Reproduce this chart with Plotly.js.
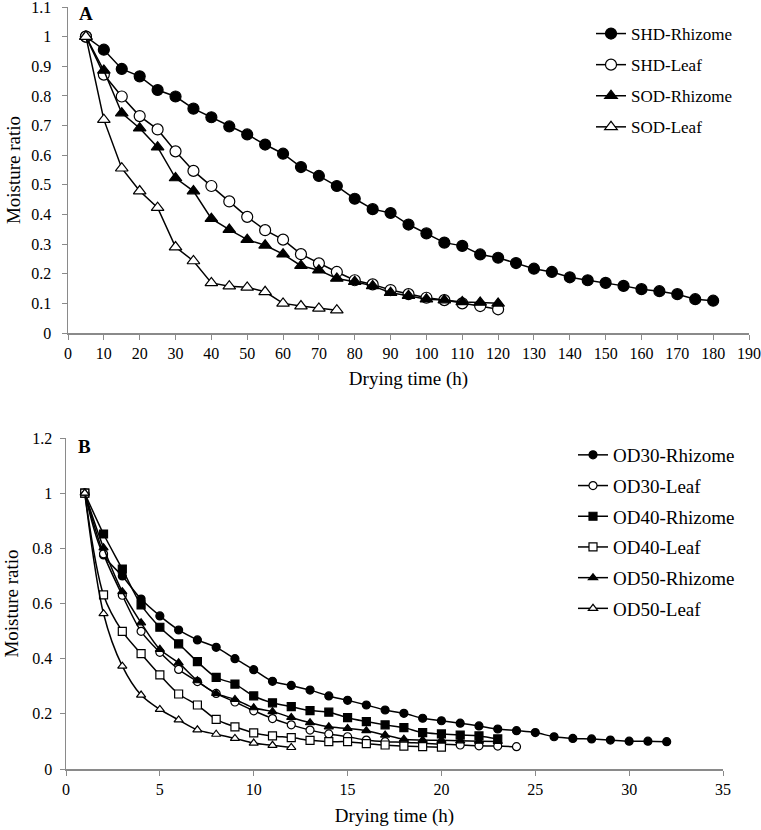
<!DOCTYPE html>
<html>
<head>
<meta charset="utf-8">
<script src="https://cdn.plot.ly/plotly-3.0.1.min.js"></script>
<style>
  html, body { margin: 0; padding: 0; background: #fff; }
  #chart { width: 761px; height: 830px; }
</style>
</head>
<body>
<div id="chart"></div>
<script>
// Panel A - sun / shade drying (hours)
const shdTime = [5, 10, 15, 20, 25, 30, 35, 40, 45, 50, 55, 60, 65, 70, 75, 80, 85, 90,
  95, 100, 105, 110, 115, 120, 125, 130, 135, 140, 145, 150, 155, 160, 165, 170, 175, 180];
const shdRhizome = [1.0, 0.956, 0.891, 0.866, 0.82, 0.798, 0.757, 0.728, 0.697, 0.67, 0.636, 0.605,
  0.56, 0.53, 0.496, 0.453, 0.418, 0.405, 0.366, 0.336, 0.305, 0.294, 0.265, 0.254,
  0.236, 0.217, 0.206, 0.188, 0.178, 0.169, 0.159, 0.148, 0.141, 0.131, 0.114, 0.109];
const leafTimeA = [5, 10, 15, 20, 25, 30, 35, 40, 45, 50, 55, 60, 65, 70, 75, 80, 85, 90,
  95, 100, 105, 110, 115, 120];
const shdLeaf = [1.0, 0.872, 0.798, 0.732, 0.687, 0.613, 0.547, 0.496, 0.444, 0.392, 0.347, 0.315,
  0.266, 0.235, 0.206, 0.178, 0.164, 0.145, 0.131, 0.119, 0.111, 0.1, 0.091, 0.08];
const sodRhizome = [1.0, 0.886, 0.742, 0.691, 0.627, 0.523, 0.479, 0.386, 0.349, 0.315, 0.296, 0.266,
  0.227, 0.212, 0.184, 0.173, 0.159, 0.136, 0.126, 0.114, 0.111, 0.105, 0.103, 0.1];
const sodLeafTime = [5, 10, 15, 20, 25, 30, 35, 40, 45, 50, 55, 60, 65, 70, 75];
const sodLeaf = [1.0, 0.72, 0.556, 0.479, 0.423, 0.29, 0.243, 0.169, 0.158, 0.154, 0.139, 0.1,
  0.091, 0.083, 0.077];

// Panel B - oven drying (hours)
const od30RhizomeTime = [1, 2, 3, 4, 5, 6, 7, 8, 9, 10, 11, 12, 13, 14, 15, 16, 17, 18, 19, 20,
  21, 22, 23, 24, 25, 26, 27, 28, 29, 30, 31, 32];
const od30Rhizome = [1.0, 0.776, 0.7, 0.616, 0.555, 0.504, 0.468, 0.441, 0.4, 0.36, 0.318, 0.303,
  0.286, 0.265, 0.249, 0.232, 0.214, 0.202, 0.184, 0.175, 0.166, 0.156, 0.145, 0.139,
  0.132, 0.117, 0.111, 0.109, 0.105, 0.101, 0.101, 0.099];
const od30LeafTime = [1, 2, 3, 4, 5, 6, 7, 8, 9, 10, 11, 12, 13, 14, 15, 16, 17, 18, 19, 20,
  21, 22, 23, 24];
const od30Leaf = [1.0, 0.78, 0.63, 0.499, 0.423, 0.361, 0.317, 0.274, 0.243, 0.211, 0.183, 0.16,
  0.141, 0.127, 0.117, 0.105, 0.099, 0.097, 0.093, 0.09, 0.087, 0.084, 0.083, 0.081];
const od40RhizomeTime = [1, 2, 3, 4, 5, 6, 7, 8, 9, 10, 11, 12, 13, 14, 15, 16, 17, 18, 19, 20,
  21, 22, 23];
const od40Rhizome = [1.0, 0.852, 0.725, 0.595, 0.514, 0.454, 0.389, 0.332, 0.308, 0.265, 0.24, 0.226,
  0.212, 0.206, 0.186, 0.172, 0.16, 0.15, 0.132, 0.127, 0.123, 0.12, 0.109];
const od40LeafTime = [1, 2, 3, 4, 5, 6, 7, 8, 9, 10, 11, 12, 13, 14, 15, 16, 17, 18, 19, 20];
const od40Leaf = [1.0, 0.631, 0.499, 0.418, 0.341, 0.272, 0.232, 0.18, 0.153, 0.131, 0.12, 0.114,
  0.104, 0.099, 0.099, 0.092, 0.087, 0.083, 0.081, 0.079];
const od50RhizomeTime = [1, 2, 3, 4, 5, 6, 7, 8, 9, 10, 11, 12, 13, 14, 15, 16, 17, 18, 19, 20,
  21, 22, 23];
const od50Rhizome = [1.0, 0.802, 0.643, 0.53, 0.434, 0.385, 0.32, 0.274, 0.252, 0.222, 0.208, 0.187,
  0.168, 0.153, 0.147, 0.139, 0.123, 0.108, 0.105, 0.104, 0.102, 0.101, 0.1];
const od50LeafTime = [1, 2, 3, 4, 5, 6, 7, 8, 9, 10, 11, 12];
const od50Leaf = [1.0, 0.563, 0.373, 0.268, 0.216, 0.178, 0.142, 0.126, 0.111, 0.094, 0.086, 0.078];

const serif = "'Liberation Serif', 'DejaVu Serif', serif";
const axisGrey = '#8a8a8a';

// one line+marker trace
function series(name, x, y, symbol, filled, size, panel) {
  const b = panel === 'B';
  return {
    x: x, y: y, name: name, type: 'scatter', mode: 'lines+markers',
    xaxis: b ? 'x2' : 'x', yaxis: b ? 'y2' : 'y',
    legend: b ? 'legend2' : 'legend', legendgroup: name,
    line: { color: '#000', width: 1.5, shape: b ? 'spline' : 'linear', smoothing: 0.9 },
    marker: {
      symbol: symbol, size: size,
      color: filled ? '#000' : '#fff',
      line: { color: '#000', width: 1.2 }
    }
  };
}

const data = [
  series('SHD-Rhizome', shdTime, shdRhizome, 'circle', true, 11, 'A'),
  series('SHD-Leaf', leafTimeA, shdLeaf, 'circle', false, 11, 'A'),
  series('SOD-Rhizome', leafTimeA, sodRhizome, 'triangle-up', true, 11, 'A'),
  series('SOD-Leaf', sodLeafTime, sodLeaf, 'triangle-up', false, 11, 'A'),
  series('OD30-Rhizome', od30RhizomeTime, od30Rhizome, 'circle', true, 8, 'B'),
  series('OD30-Leaf', od30LeafTime, od30Leaf, 'circle', false, 8, 'B'),
  series('OD40-Rhizome', od40RhizomeTime, od40Rhizome, 'square', true, 8, 'B'),
  series('OD40-Leaf', od40LeafTime, od40Leaf, 'square', false, 8, 'B'),
  series('OD50-Rhizome', od50RhizomeTime, od50Rhizome, 'triangle-up', true, 8, 'B'),
  series('OD50-Leaf', od50LeafTime, od50Leaf, 'triangle-up', false, 8, 'B')
];

function axis(extra) {
  return Object.assign({
    showgrid: false, zeroline: false, showline: true,
    linecolor: axisGrey, linewidth: 1.5,
    ticks: 'outside', ticklen: 5, tickcolor: axisGrey, tickwidth: 1,
    tickfont: { family: serif, size: 16, color: '#000' },
    ticklabeloverflow: 'allow',
    fixedrange: true
  }, extra);
}

const W = 761, H = 830;
const px = v => v / W;
const py = v => 1 - v / H;

const layout = {
  width: W, height: H,
  margin: { l: 0, r: 0, t: 0, b: 0 },
  paper_bgcolor: '#fff', plot_bgcolor: '#fff',
  font: { family: serif, color: '#000' },
  xaxis: axis({
    domain: [px(68), px(749)], anchor: 'y', range: [0, 190], dtick: 10,
    title: { text: 'Drying time (h)', font: { family: serif, size: 19 }, standoff: 11 }
  }),
  yaxis: axis({
    domain: [py(333), py(7)], anchor: 'x', range: [0, 1.1001], dtick: 0.1,
    ticklabelstandoff: 7,
    title: { text: 'Moisture ratio', font: { family: serif, size: 19 }, standoff: 5 }
  }),
  xaxis2: axis({
    domain: [px(66), px(723)], anchor: 'y2', range: [0, 35], dtick: 5,
    title: { text: 'Drying time (h)', font: { family: serif, size: 19 }, standoff: 12 }
  }),
  yaxis2: axis({
    domain: [py(769), py(438)], anchor: 'x2', range: [0, 1.2001], dtick: 0.2,
    ticklabelstandoff: 4,
    title: { text: 'Moisture ratio', font: { family: serif, size: 19 }, standoff: 8 }
  }),
  legend: {
    x: px(591), y: py(16), xanchor: 'left', yanchor: 'top',
    traceorder: 'grouped', tracegroupgap: 6,
    font: { family: serif, size: 17, color: '#000' },
    bgcolor: 'rgba(0,0,0,0)'
  },
  legend2: {
    x: px(573), y: py(436), xanchor: 'left', yanchor: 'top',
    traceorder: 'grouped', tracegroupgap: 3,
    font: { family: serif, size: 19, color: '#000' },
    bgcolor: 'rgba(0,0,0,0)'
  },
  annotations: [
    { text: '<b>A</b>', x: px(86), y: py(13), xref: 'paper', yref: 'paper',
      xanchor: 'center', yanchor: 'middle',
      showarrow: false, font: { family: serif, size: 19, color: '#000' } },
    { text: '<b>B</b>', x: px(84), y: py(446), xref: 'paper', yref: 'paper',
      xanchor: 'center', yanchor: 'middle',
      showarrow: false, font: { family: serif, size: 19, color: '#000' } }
  ],
  showlegend: true
};

Plotly.newPlot('chart', data, layout, { displayModeBar: false, staticPlot: true });
</script>
</body>
</html>
